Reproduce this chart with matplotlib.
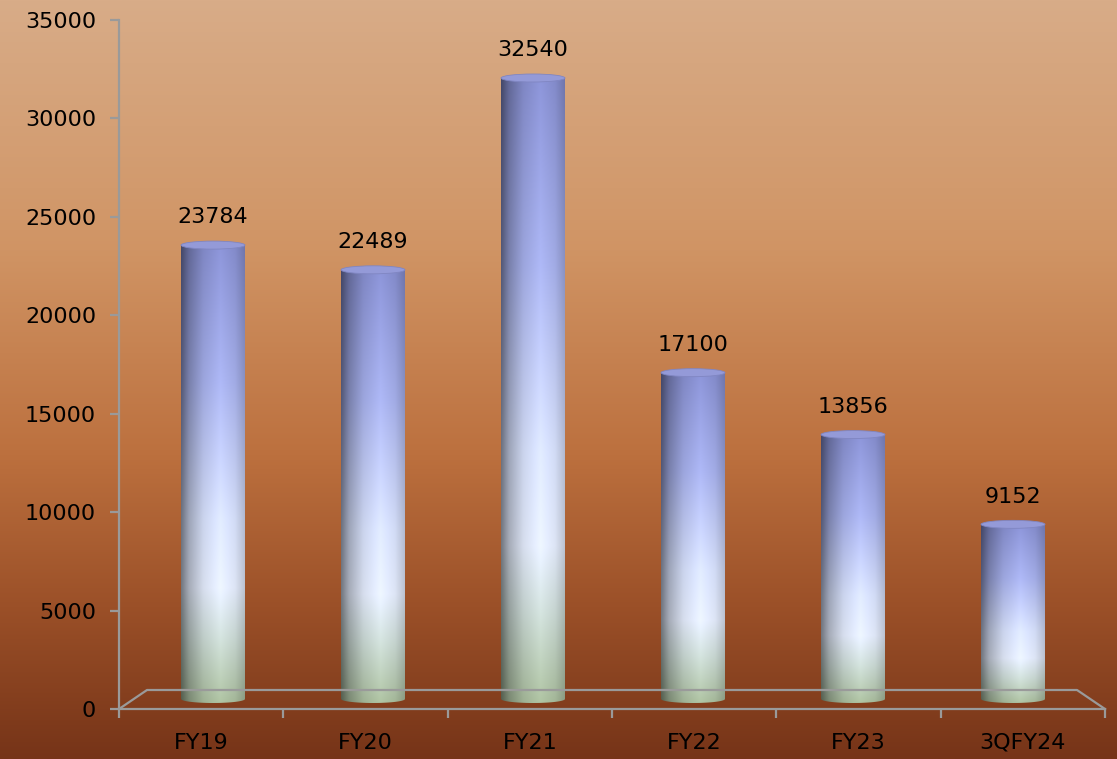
import numpy as np
import matplotlib
matplotlib.use("Agg")
import matplotlib.pyplot as plt
from matplotlib.patches import Ellipse, PathPatch
from matplotlib.path import Path

categories = ["FY19", "FY20", "FY21", "FY22", "FY23", "3QFY24"]
values = [23784, 22489, 32540, 17100, 13856, 9152]
yticks = [0, 5000, 10000, 15000, 20000, 25000, 30000, 35000]

W, H = 1117, 759
fig = plt.figure(figsize=(W / 100, H / 100), dpi=100)

def fx(px):
    return px / W

def fy(py):
    return (H - py) / H

# background gradient
bg = fig.add_axes([0, 0, 1, 1])
stops_y = [0.0, 0.33, 0.6, 0.8, 1.0]
stops_c = np.array([(216, 172, 136), (208, 148, 100), (188, 112, 62), (155, 80, 40), (118, 52, 24)]) / 255
yy = np.linspace(0, 1, 400)
grad = np.stack([np.interp(yy, stops_y, stops_c[:, k]) for k in range(3)], axis=1)
bg.imshow(grad[:, None, :], aspect="auto", extent=[0, 1, 0, 1], origin="upper")
bg.set_axis_off()

# main axis
x0, x1, ytop, ybot = 119, 1105, 20, 709
ax = fig.add_axes([fx(x0), fy(ybot), fx(x1) - fx(x0), fy(ytop) - fy(ybot)])
ax.set_facecolor("none")
ax.set_xlim(0, len(categories))
ax.set_ylim(0, 35000)
gray = "#9a9a9a"
for s in ["top", "right"]:
    ax.spines[s].set_visible(False)
for s in ["left", "bottom"]:
    ax.spines[s].set_color(gray)
    ax.spines[s].set_linewidth(1.6)
ax.set_yticks(yticks)
ax.set_yticklabels([str(v) for v in yticks])
ax.tick_params(axis="y", length=6.5, width=1.6, color=gray, pad=10, labelsize=16, labelcolor="black")
ax.set_xticks(range(len(categories) + 1))
ax.set_xticklabels([""] * (len(categories) + 1))
ax.tick_params(axis="x", which="major", length=6.5, width=1.6, color=gray, direction="out")
ax.set_xticks(np.arange(len(categories)) + 0.5, minor=True)
ax.set_xticklabels(categories, minor=True)
ax.tick_params(axis="x", which="minor", length=0, pad=17, labelsize=16, labelcolor="black")

# floor (trapezoid) in figure pixels
floor_x = [119, 147, 1077, 1105]
floor_y = [709, 690, 690, 709]
fig.add_artist(plt.Line2D([fx(v) for v in floor_x], [fy(v) for v in floor_y],
                          color=gray, lw=1.6, transform=fig.transFigure))

# bars axes
b_left, b_right = 133, 1093
b0, btop = 699, 20
scale = 621 / 32540
ax2 = fig.add_axes([fx(b_left), fy(b0), fx(b_right) - fx(b_left), fy(btop) - fy(b0)])
ax2.set_xlim(-0.5, len(categories) - 0.5)
ax2.set_ylim(-300, (b0 - btop) / scale)
ax2.set_position([fx(b_left), fy(b0 + 300 * scale), fx(b_right) - fx(b_left),
                  fy(btop) - fy(b0 + 300 * scale)])
ax2.set_axis_off()
ax2.set_facecolor("none")

bw = 64 / 160
eh = 8 / scale

vs = [0.0, 0.3, 0.6, 0.75, 0.86, 1.0]
vc = np.array([(136, 144, 210), (168, 178, 238), (218, 228, 255), (230, 238, 255),
               (205, 220, 215), (170, 190, 158)]) / 255
us = [0.0, 0.12, 0.35, 0.62, 0.85, 1.0]
uf = [0.5, 0.72, 0.93, 1.04, 0.96, 0.82]

for i, v in enumerate(values):
    nh, nw = 300, 80
    t = np.linspace(0, 1, nh)
    col = np.stack([np.interp(t, vs, vc[:, k]) for k in range(3)], axis=1)
    f = np.interp(np.linspace(0, 1, nw), us, uf)
    img = np.clip(col[:, None, :] * f[None, :, None], 0, 1)
    left, right = i - bw / 2, i + bw / 2
    im = ax2.imshow(img, extent=[left, right, -eh / 2 - 10, v], aspect="auto",
                    origin="upper", zorder=2, interpolation="bilinear")
    th = np.linspace(np.pi, 2 * np.pi, 40)
    pts = [(left, v), (left, 0)] + [(i + bw / 2 * np.cos(a), eh / 2 * np.sin(a)) for a in th] + [(right, v), (left, v)]
    codes = [Path.MOVETO] + [Path.LINETO] * (len(pts) - 2) + [Path.CLOSEPOLY]
    clip = PathPatch(Path(pts, codes), transform=ax2.transData, facecolor="none", edgecolor="none")
    ax2.add_patch(clip)
    im.set_clip_path(clip)
    ax2.add_patch(Ellipse((i, v), bw, eh, facecolor=(148 / 255, 154 / 255, 216 / 255),
                          edgecolor=(128 / 255, 134 / 255, 194 / 255), lw=0.6, zorder=3))
    ax2.annotate(str(v), (i, v), xytext=(0, 20), textcoords="offset points",
                 ha="center", va="center", fontsize=16, color="black", zorder=4)

fig.savefig("out.png", dpi=100)
